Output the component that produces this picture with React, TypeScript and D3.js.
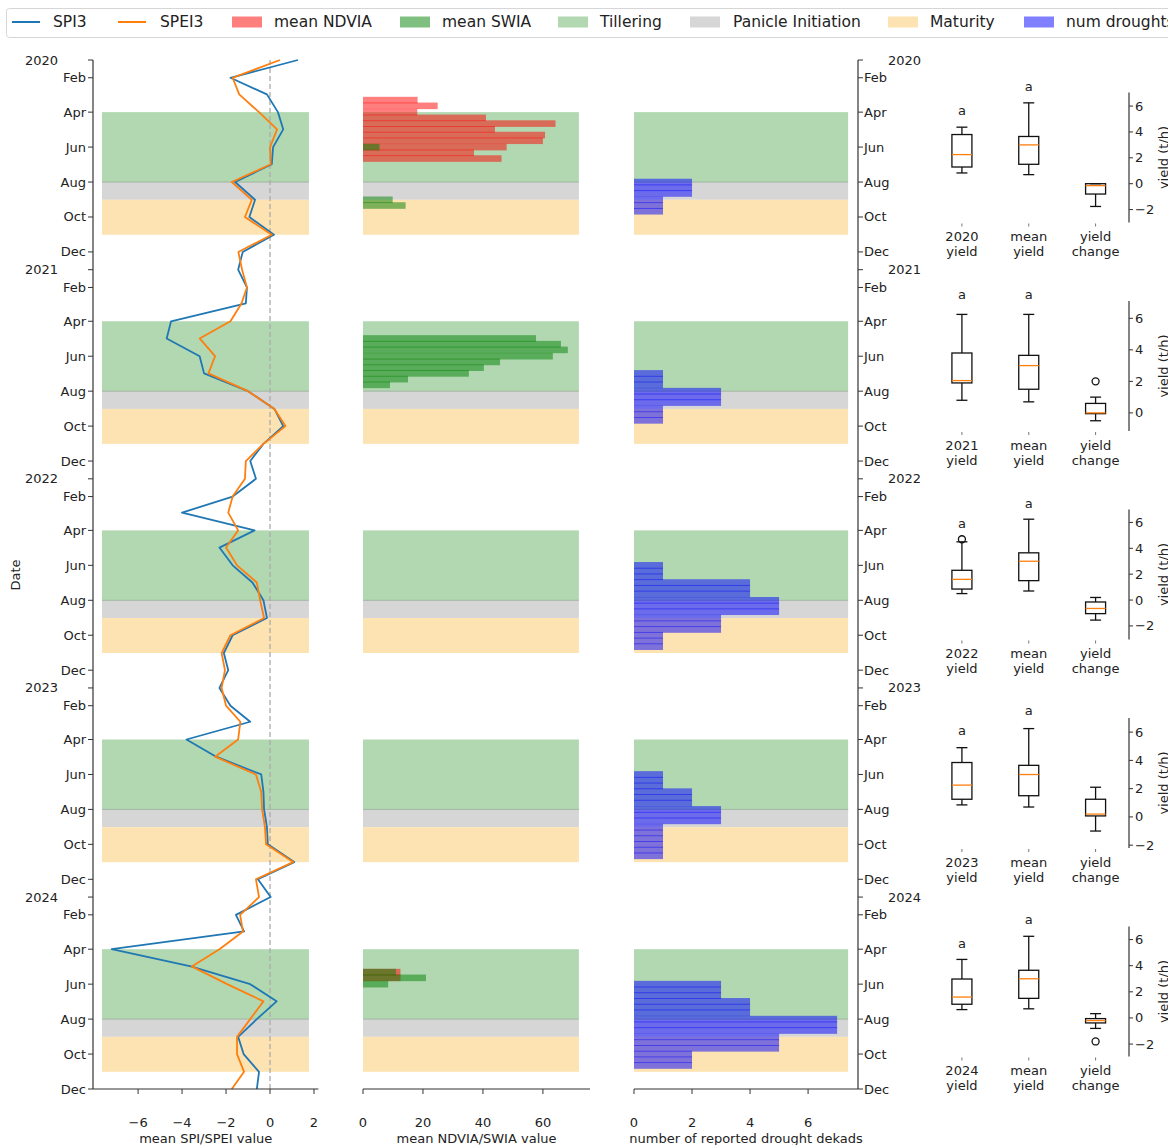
import React from "react";
import * as d3 from "d3";

const W = 1168;
const H = 1145;
const FONT = "DejaVu Sans, Verdana, sans-serif";

const years = [2020, 2021, 2022, 2023, 2024];
const monthTickLabels = ["Feb", "Apr", "Jun", "Aug", "Oct", "Dec"];
const monthTickMonths = [2, 4, 6, 8, 10, 12];

// monthly mean SPI3 / SPEI3 (1st of each month, Jan..Dec)
const spi3 = [
  // 2020
  1.27, -1.8, -0.14, 0.36, 0.6, 0.14, 0.08, -1.59, -0.68, -0.94, 0.18, -1.24,
  // 2021
  -1.45, -1.05, -1.1, -4.5, -4.7, -3.2, -3.0, -1.0, 0.2, 0.6, -0.3, -0.9,
  // 2022
  -0.64, -1.7, -4.0, -0.7, -2.3, -1.7, -0.8, -0.3, -0.14, -1.7, -2.1, -1.9,
  // 2023
  -2.3, -1.8, -0.9, -3.8, -2.45, -0.4, -0.3, -0.27, -0.14, -0.1, 1.1, -0.55,
  // 2024
  0.03, -1.55, -1.18, -7.2, -3.6, -0.9, 0.3, -0.6, -1.45, -1.2, -0.5, -0.6,
];
const spei3 = [
  // 2020
  0.45, -1.7, -1.4, -0.5, 0.32, 0.0, 0.03, -1.74, -0.83, -1.14, 0.08, -1.44,
  // 2021
  -1.27, -1.05, -1.3, -1.8, -3.2, -2.5, -2.8, -1.0, 0.2, 0.7, -0.3, -1.1,
  // 2022
  -1.14, -1.7, -1.9, -1.45, -2.0, -1.5, -0.6, -0.45, -0.27, -1.8, -2.2, -2.05,
  // 2023
  -2.2, -2.0, -1.35, -1.45, -2.5, -0.64, -0.4, -0.36, -0.23, -0.18, 1.05, -0.64,
  // 2024
  -0.5, -1.36, -1.23, -2.3, -3.56, -1.95, -0.3, -0.9, -1.5, -1.5, -1.18, -1.74,
];

// dekadal mean NDVIA (red) and SWIA (green)
const ndviaDates = [
  "2020-03-11", "2020-03-21", "2020-04-01", "2020-04-11", "2020-04-21", "2020-05-01",
  "2020-05-11", "2020-05-21", "2020-06-01", "2020-06-11", "2020-06-21",
  "2024-05-11", "2024-05-21",
];
const ndviaValues = [18.2, 24.9, 18.1, 41, 64.2, 44, 60.7, 60, 47.9, 37, 46.2, 12.5, 12.5];

const swiaDates = [
  "2020-06-01", "2020-09-01", "2020-09-11",
  "2021-05-01", "2021-05-11", "2021-05-21", "2021-06-01", "2021-06-11", "2021-06-21",
  "2021-07-01", "2021-07-11", "2021-07-21",
  "2024-05-11", "2024-05-21", "2024-06-01",
];
const swiaValues = [5.5, 9.9, 14.2, 57.7, 66, 68.3, 63.3, 45.7, 40.3, 35.3, 15, 9, 11, 21, 8.4];

// number of reported drought dekads
const droughtDates = [
  "2020-08-01", "2020-08-11", "2020-08-21", "2020-09-01", "2020-09-11", "2020-09-21",
  "2021-07-01", "2021-07-11", "2021-07-21", "2021-08-01", "2021-08-11", "2021-08-21",
  "2021-09-01", "2021-09-11", "2021-09-21",
  "2022-06-01", "2022-06-11", "2022-06-21", "2022-07-01", "2022-07-11", "2022-07-21",
  "2022-08-01", "2022-08-11", "2022-08-21", "2022-09-01", "2022-09-11", "2022-09-21",
  "2022-10-01", "2022-10-11", "2022-10-21",
  "2023-06-01", "2023-06-11", "2023-06-21", "2023-07-01", "2023-07-11", "2023-07-21",
  "2023-08-01", "2023-08-11", "2023-08-21", "2023-09-01", "2023-09-11", "2023-09-21",
  "2023-10-01", "2023-10-11", "2023-10-21",
  "2024-06-01", "2024-06-11", "2024-06-21", "2024-07-01", "2024-07-11", "2024-07-21",
  "2024-08-01", "2024-08-11", "2024-08-21", "2024-09-01", "2024-09-11", "2024-09-21",
  "2024-10-01", "2024-10-11", "2024-10-21",
];
const droughtValues = [
  2, 2, 2, 1, 1, 1,
  1, 1, 1, 3, 3, 3, 1, 1, 1,
  1, 1, 1, 4, 4, 4, 5, 5, 5, 3, 3, 3, 1, 1, 1,
  1, 1, 1, 2, 2, 2, 3, 3, 3, 1, 1, 1, 1, 1, 1,
  3, 3, 3, 4, 4, 4, 7, 7, 7, 5, 5, 5, 2, 2, 2,
];

// crop phases (month-day start / end)
const phaseNames = ["Tillering", "Panicle Initiation", "Maturity"];
const phaseStarts = ["04-01", "08-01", "09-01"];
const phaseEnds = ["08-01", "09-01", "11-01"];

// boxplot stats: [whisker low, Q1, median, Q3, whisker high]
const yearYieldStats = [
  [0.83, 1.29, 2.25, 3.8, 4.37],
  [0.8, 1.9, 2.05, 3.8, 6.25],
  [0.5, 0.85, 1.6, 2.3, 4.5],
  [0.85, 1.25, 2.25, 3.85, 4.9],
  [0.64, 1.05, 1.6, 2.98, 4.48],
];
const yearYieldOutliers = [[], [], [4.7], [], []];
const meanYieldStats = [0.7, 1.5, 3.0, 3.65, 6.25];
const yieldChangeStats = [
  [-1.76, -0.8, -0.15, 0.0, 0.0],
  [-0.5, -0.05, 0.0, 0.6, 1.0],
  [-1.55, -1.05, -0.65, -0.15, 0.2],
  [-1.0, 0.07, 0.2, 1.25, 2.1],
  [-0.8, -0.38, -0.2, -0.05, 0.33],
];
const yieldChangeOutliers = [[], [2.0], [], [], [-1.8]];
const boxDomains = [
  [-3.0, 7.05],
  [-1.15, 7.1],
  [-3.05, 7.0],
  [-2.2, 7.0],
  [-2.95, 7.0],
];
const boxTickValues = [-2, 0, 2, 4, 6];
const sigLetters = ["a", "a"];

const spiTicks = [-6, -4, -2, 0, 2];
const ndTicks = [0, 20, 40, 60];
const drTicks = [0, 2, 4, 6];

const COLORS = {
  spi: "#1f77b4",
  spei: "#ff7f0e",
  ndvia: "rgba(255,0,0,0.5)",
  swia: "rgba(0,128,0,0.5)",
  phases: ["rgb(178,216,178)", "rgb(214,214,214)", "rgb(253,227,178)"],
  drought: "rgba(0,0,255,0.5)",
  text: "#222",
  axis: "#333",
};

const utc = (s: string) => {
  const [y, m, d] = s.split("-").map(Number);
  return new Date(Date.UTC(y, m - 1, d));
};
const DAY = 86400000;

export default function App() {
  const yS = d3.scaleUtc().domain([utc("2020-01-01"), utc("2024-12-01")]).range([60, 1089]);
  const months = d3.utcMonth.range(utc("2020-01-01"), utc("2025-01-01"));

  const xL = d3.scaleLinear().domain([-8.05, 2.2]).range([93, 318.4]);
  const xM = d3.scaleLinear().domain([0, 75.7]).range([363, 590]);
  const xD = d3.scaleLinear().domain([0, 7.72]).range([634, 858]);

  const bandExt = [
    [xL(-7.64), xL(1.77)],
    [xM(0), xM(72)],
    [xD(0), xD(7.38)],
  ];

  const barY = (s: string) => {
    const d = utc(s).getTime();
    const y0 = yS(new Date(d - 5.75 * DAY));
    const y1 = yS(new Date(d + 5.75 * DAY));
    return [y0, y1 - y0];
  };

  const spiLine = d3
    .line<number>()
    .x((v) => xL(v))
    .y((_, i) => yS(months[i]));

  const axisBottomY = 1089;

  const bands: JSX.Element[] = [];
  years.forEach((yr) => {
    phaseNames.forEach((p, pi) => {
      const y0 = yS(utc(`${yr}-${phaseStarts[pi]}`));
      const y1 = yS(utc(`${yr}-${phaseEnds[pi]}`));
      bandExt.forEach(([x0, x1], bi) => {
        bands.push(
          <rect key={`b${yr}${pi}${bi}`} x={x0} y={y0} width={x1 - x0} height={y1 - y0} fill={COLORS.phases[pi]} />
        );
        if (pi === 1) {
          bands.push(
            <line key={`bl${yr}${bi}`} x1={x0} x2={x1} y1={y0} y2={y0} stroke="rgb(160,180,160)" strokeWidth={1} />
          );
        }
      });
    });
  });

  // month ticks
  const leftTicks: JSX.Element[] = [];
  const rightTicks: JSX.Element[] = [];
  years.forEach((yr) => {
    const yy = yS(utc(`${yr}-01-01`));
    leftTicks.push(
      <g key={`ly${yr}`}>
        <line x1={88} x2={93} y1={yy} y2={yy} stroke={COLORS.axis} />
        <text x={58} y={yy} textAnchor="end" dominantBaseline="central" fontSize={13} fill={COLORS.text}>{yr}</text>
      </g>
    );
    rightTicks.push(
      <g key={`ry${yr}`}>
        <line x1={858} x2={863} y1={yy} y2={yy} stroke={COLORS.axis} />
        <text x={888} y={yy} textAnchor="start" dominantBaseline="central" fontSize={13} fill={COLORS.text}>{yr}</text>
      </g>
    );
    monthTickMonths.forEach((m, mi) => {
      const yM = yS(utc(`${yr}-${String(m).padStart(2, "0")}-01`));
      leftTicks.push(
        <g key={`lm${yr}${m}`}>
          <line x1={88} x2={93} y1={yM} y2={yM} stroke={COLORS.axis} />
          <text x={86} y={yM} textAnchor="end" dominantBaseline="central" fontSize={13} fill={COLORS.text}>{monthTickLabels[mi]}</text>
        </g>
      );
      rightTicks.push(
        <g key={`rm${yr}${m}`}>
          <line x1={858} x2={863} y1={yM} y2={yM} stroke={COLORS.axis} />
          <text x={864} y={yM} textAnchor="start" dominantBaseline="central" fontSize={13} fill={COLORS.text}>{monthTickLabels[mi]}</text>
        </g>
      );
    });
  });

  const xAxis = (scale: d3.ScaleLinear<number, number>, ticks: number[], x0: number, x1: number, label: string, key: string) => (
    <g key={key}>
      <line x1={x0} x2={x1} y1={axisBottomY} y2={axisBottomY} stroke={COLORS.axis} strokeWidth={1.2} />
      {ticks.map((t) => (
        <g key={t}>
          <line x1={scale(t)} x2={scale(t)} y1={axisBottomY} y2={axisBottomY + 5} stroke={COLORS.axis} />
          <text x={scale(t)} y={1122} textAnchor="middle" dominantBaseline="central" fontSize={13} fill={COLORS.text}>
            {t < 0 ? `\u2212${-t}` : t}
          </text>
        </g>
      ))}
      <text x={(x0 + x1) / 2} y={1138} textAnchor="middle" dominantBaseline="central" fontSize={13} fill={COLORS.text}>
        {label}
      </text>
    </g>
  );

  // boxplots
  const bx = d3.scaleLinear().domain([0.5, 3.5]).range([928.5, 1129]);
  const boxW = 20;
  const capW = 11;
  const drawBox = (stats: number[], outl: number[], pos: number, ys: d3.ScaleLinear<number, number>, key: string) => {
    const cx = bx(pos);
    const [wl, q1, med, q3, wh] = stats;
    return (
      <g key={key} fill="none" stroke="#111" strokeWidth={1.3}>
        <line x1={cx} x2={cx} y1={ys(q3)} y2={ys(wh)} />
        <line x1={cx} x2={cx} y1={ys(q1)} y2={ys(wl)} />
        <line x1={cx - capW / 2} x2={cx + capW / 2} y1={ys(wh)} y2={ys(wh)} />
        <line x1={cx - capW / 2} x2={cx + capW / 2} y1={ys(wl)} y2={ys(wl)} />
        <rect x={cx - boxW / 2} y={ys(q3)} width={boxW} height={Math.max(ys(q1) - ys(q3), 0.5)} />
        <line x1={cx - boxW / 2} x2={cx + boxW / 2} y1={ys(med)} y2={ys(med)} stroke={COLORS.spei} />
        {outl.map((o, i) => (
          <circle key={i} cx={cx} cy={ys(o)} r={3.5} />
        ))}
      </g>
    );
  };

  const boxPanels = years.map((yr, i) => {
    const top = 92.5 + i * 208.5;
    const bottom = top + 130;
    const ys = d3.scaleLinear().domain(boxDomains[i]).range([bottom, top]);
    const ticks = boxTickValues.filter((t) => t >= boxDomains[i][0] && t <= boxDomains[i][1]);
    const catLabels = [[`${yr}`, "yield"], ["mean", "yield"], ["yield", "change"]];
    const yMaxYear = Math.max(yearYieldStats[i][4], ...yearYieldOutliers[i]);
    return (
      <g key={`bp${yr}`}>
        <line x1={1129} x2={1129} y1={top} y2={bottom} stroke={COLORS.axis} strokeWidth={1.2} />
        {ticks.map((t) => (
          <g key={t}>
            <line x1={1129} x2={1133} y1={ys(t)} y2={ys(t)} stroke={COLORS.axis} />
            <text x={1135} y={ys(t)} dominantBaseline="central" fontSize={13} fill={COLORS.text}>
              {t < 0 ? `\u2212${-t}` : t}
            </text>
          </g>
        ))}
        <text
          transform={`translate(1163,${(top + bottom) / 2}) rotate(-90)`}
          textAnchor="middle"
          dominantBaseline="central"
          fontSize={13}
          fill={COLORS.text}
        >
          yield (t/h)
        </text>
        {[1, 2, 3].map((p, pi) => (
          <g key={p}>
            <line x1={bx(p)} x2={bx(p)} y1={bottom + 1} y2={bottom + 4} stroke="#777" />
            <text x={bx(p)} y={bottom + 14} textAnchor="middle" dominantBaseline="central" fontSize={13} fill={COLORS.text}>
              {catLabels[pi][0]}
            </text>
            <text x={bx(p)} y={bottom + 29} textAnchor="middle" dominantBaseline="central" fontSize={13} fill={COLORS.text}>
              {catLabels[pi][1]}
            </text>
          </g>
        ))}
        {drawBox(yearYieldStats[i], yearYieldOutliers[i], 1, ys, "y")}
        {drawBox(meanYieldStats, [], 2, ys, "m")}
        {drawBox(yieldChangeStats[i], yieldChangeOutliers[i], 3, ys, "c")}
        <text x={bx(1)} y={ys(yMaxYear + 1.25)} textAnchor="middle" dominantBaseline="central" fontSize={13} fill={COLORS.text}>
          {sigLetters[0]}
        </text>
        <text x={bx(2)} y={ys(meanYieldStats[4] + 1.25)} textAnchor="middle" dominantBaseline="central" fontSize={13} fill={COLORS.text}>
          {sigLetters[1]}
        </text>
      </g>
    );
  });

  const legendItems = [
    { kind: "line", color: COLORS.spi, label: "SPI3", x: 12, tx: 53 },
    { kind: "line", color: COLORS.spei, label: "SPEI3", x: 118, tx: 160 },
    { kind: "patch", color: COLORS.ndvia, label: "mean NDVIA", x: 232, tx: 274 },
    { kind: "patch", color: COLORS.swia, label: "mean SWIA", x: 400, tx: 442 },
    { kind: "patch", color: COLORS.phases[0], label: phaseNames[0], x: 558, tx: 600 },
    { kind: "patch", color: COLORS.phases[1], label: phaseNames[1], x: 690, tx: 733 },
    { kind: "patch", color: COLORS.phases[2], label: phaseNames[2], x: 888, tx: 930 },
    { kind: "patch", color: COLORS.drought, label: "num droughts", x: 1024, tx: 1066 },
  ];

  return (
    <svg
      width={W}
      height={H}
      viewBox={`0 0 ${W} ${H}`}
      style={{ position: "absolute", left: 0, top: 0, background: "#fff" }}
      fontFamily={FONT}
    >
      <rect x={0} y={0} width={W} height={H} fill="#fff" />
      {/* legend */}
      <rect x={6.5} y={8.5} width={1200} height={29} rx={3} fill="#fff" stroke="#d6d6d6" />
      {legendItems.map((it) => (
        <g key={it.label}>
          {it.kind === "line" ? (
            <line x1={it.x} x2={it.x + 28} y1={22} y2={22} stroke={it.color} strokeWidth={2} />
          ) : (
            <rect x={it.x} y={16.5} width={30} height={11} fill={it.color} />
          )}
          <text x={it.tx} y={22} dominantBaseline="central" fontSize={15.5} fill={COLORS.text}>
            {it.label}
          </text>
        </g>
      ))}

      {bands}

      {/* NDVIA / SWIA bars */}
      {ndviaDates.map((d, i) => {
        const [y, h] = barY(d);
        return <rect key={`n${i}`} x={xM(0)} y={y} width={xM(ndviaValues[i]) - xM(0)} height={h} fill={COLORS.ndvia} />;
      })}
      {swiaDates.map((d, i) => {
        const [y, h] = barY(d);
        return <rect key={`s${i}`} x={xM(0)} y={y} width={xM(swiaValues[i]) - xM(0)} height={h} fill={COLORS.swia} />;
      })}

      {/* drought bars */}
      {droughtDates.map((d, i) => {
        const [y, h] = barY(d);
        return <rect key={`d${i}`} x={xD(0)} y={y} width={xD(droughtValues[i]) - xD(0)} height={h} fill={COLORS.drought} />;
      })}

      {/* zero line */}
      <line x1={xL(0)} x2={xL(0)} y1={60} y2={1089} stroke="#aaa" strokeWidth={1.3} strokeDasharray="5,3" />
      <path d={spiLine(spi3) || ""} fill="none" stroke={COLORS.spi} strokeWidth={1.8} strokeLinejoin="round" />
      <path d={spiLine(spei3) || ""} fill="none" stroke={COLORS.spei} strokeWidth={1.8} strokeLinejoin="round" />

      {/* left spine */}
      <line x1={93} x2={93} y1={60} y2={1089} stroke={COLORS.axis} strokeWidth={1.2} />
      {leftTicks}
      {/* right spine of drought panel */}
      <line x1={858} x2={858} y1={60} y2={1089} stroke={COLORS.axis} strokeWidth={1.2} />
      {rightTicks}

      {xAxis(xL, spiTicks, 93, 318.4, "mean SPI/SPEI value", "ax1")}
      {xAxis(xM, ndTicks, 363, 590, "mean NDVIA/SWIA value", "ax2")}
      {xAxis(xD, drTicks, 634, 858, "number of reported drought dekads", "ax3")}

      <text transform="translate(15,575) rotate(-90)" textAnchor="middle" dominantBaseline="central" fontSize={13} fill={COLORS.text}>
        Date
      </text>

      {boxPanels}
    </svg>
  );
}
